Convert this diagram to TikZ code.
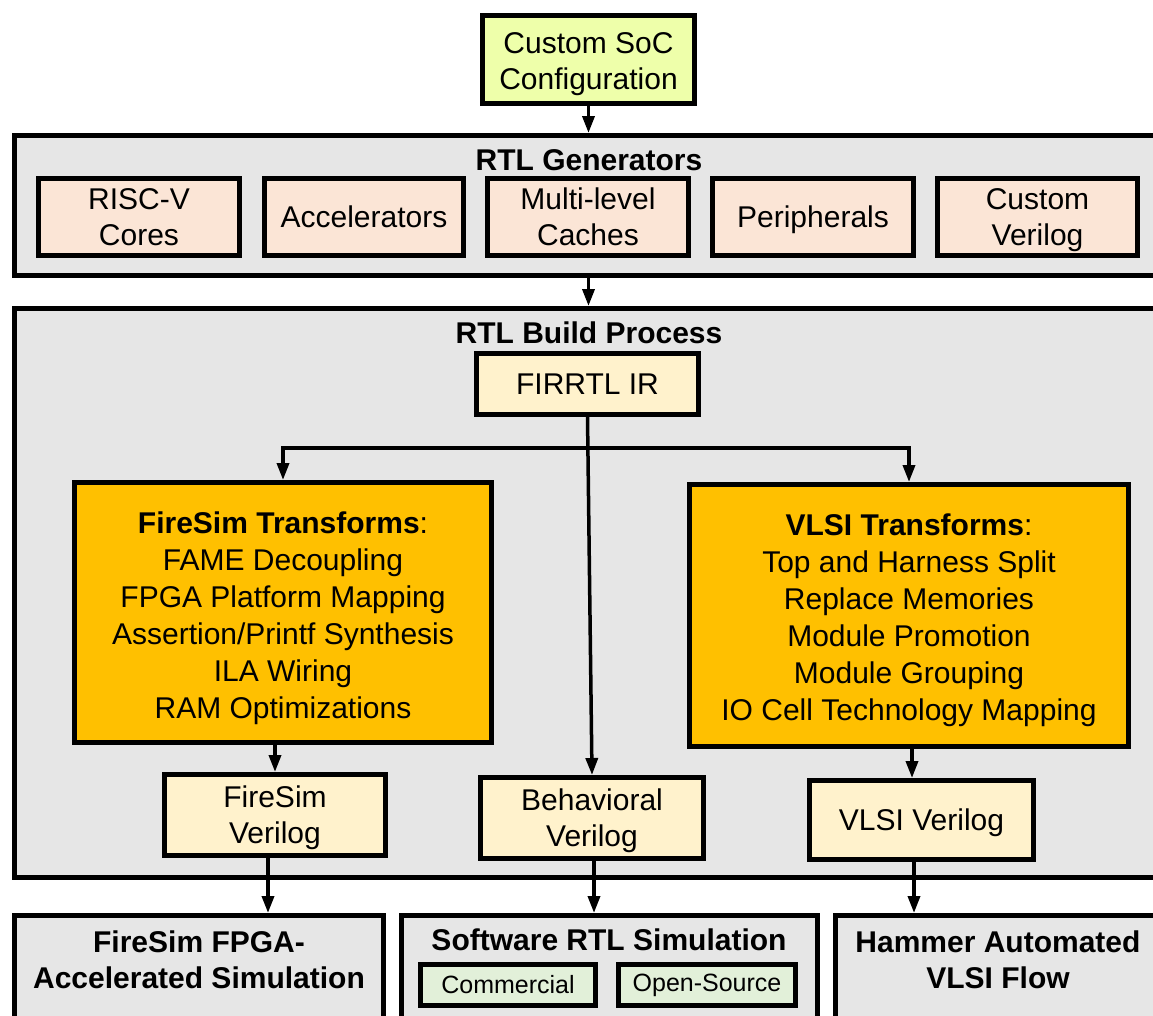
\documentclass[tikz,border=0pt]{standalone}
\usepackage{fontspec}
\setmainfont{Liberation Sans}
\usetikzlibrary{arrows.meta}
\definecolor{socfill}{HTML}{EEFFAA}
\definecolor{greyfill}{HTML}{E6E6E6}
\definecolor{peach}{HTML}{FBE5D6}
\definecolor{orange}{HTML}{FFC000}
\definecolor{lyellow}{HTML}{FFF2CC}
\definecolor{lgreen}{HTML}{E2F0D9}
\newcommand{\nodep}[1]{\raisebox{0pt}[\height][0pt]{#1}}
\tikzset{
  box/.style={draw=black, line width=5pt, inner sep=0pt, align=center,
    font=\fontsize{30}{36}\selectfont},
  smallbox/.style={draw=black, line width=4.5pt, inner sep=0pt, align=center,
    font=\fontsize{25}{30}\selectfont, fill=lgreen},
  title/.style={inner sep=0pt, align=center, font=\fontsize{30}{36}\selectfont\bfseries},
  arr/.style={line width=3.5pt, -{Triangle[width=12pt,length=17pt]}},
  ln/.style={line width=3.5pt}
}
\begin{document}
\begin{tikzpicture}[x=1pt,y=-1pt]
\useasboundingbox (0,0) rectangle (1153,1015);
\clip (0,0) rectangle (1153,1015);
\fill[white] (0,0) rectangle (1153,1015);
% top
\node[box, fill=socfill, minimum width=212pt, minimum height=88pt] (soc) at (588.5,59.5) {\rule{0pt}{24pt}Custom SoC\\\nodep{Configuration}};
% RTL generators
\node[box, fill=greyfill, minimum width=1153pt, minimum height=140pt] (gen) at (591,205.5) {};
\node[title] (gent) at (589,160) {RTL Generators};
\node[box, fill=peach, minimum width=201pt, minimum height=77pt] (g1) at (139,217) {RISC-V\\Cores};
\node[box, fill=peach, minimum width=199pt, minimum height=77pt] (g2) at (364,217) {Accelerators};
\node[box, fill=peach, minimum width=201pt, minimum height=77pt] (g3) at (588,217) {Multi-level\\Caches};
\node[box, fill=peach, minimum width=201pt, minimum height=77pt] (g4) at (813,217) {\nodep{Peripherals}};
\node[box, fill=peach, minimum width=200pt, minimum height=77pt] (g5) at (1037.5,217) {Custom\\\nodep{Verilog}};
% RTL build process
\node[box, fill=greyfill, minimum width=1153pt, minimum height=569pt] (build) at (591,593) {};
\node[title] (buildt) at (589,333) {RTL Build Process};
\node[box, fill=lyellow, minimum width=222pt, minimum height=61pt] (fir) at (587.5,384) {FIRRTL IR};
\node[box, fill=orange, minimum width=417pt, minimum height=260pt, font=\fontsize{30}{37}\selectfont] (fire) at (283,612.5)
  {\rule{0pt}{26pt}\textbf{FireSim Transforms}:\\FAME Decoupling\\FPGA Platform Mapping\\Assertion/Printf Synthesis\\ILA Wiring\\\nodep{RAM Optimizations}};
\node[box, fill=orange, minimum width=439pt, minimum height=262pt, font=\fontsize{30}{37}\selectfont] (vlsi) at (909,615.5)
  {\rule{0pt}{24pt}\textbf{VLSI Transforms}:\\Top and Harness Split\\Replace Memories\\Module Promotion\\Module Grouping\\\nodep{IO Cell Technology Mapping}};
\node[box, fill=lyellow, minimum width=221pt, minimum height=81pt] (fsv) at (275,815) {FireSim\\\nodep{Verilog}};
\node[box, fill=lyellow, minimum width=223pt, minimum height=81pt] (bhv) at (592,818) {Behavioral\\\nodep{Verilog}};
\node[box, fill=lyellow, minimum width=224pt, minimum height=79pt] (vlv) at (921.5,820) {\nodep{VLSI Verilog}};
% bottom
\node[box, fill=greyfill, minimum width=369pt, minimum height=112pt] (fpga) at (199,971.5) {};
\node[box, fill=greyfill, minimum width=416pt, minimum height=112pt] (sw) at (609.5,971.5) {};
\node[box, fill=greyfill, minimum width=332pt, minimum height=112pt] (ham) at (1001.5,971.5) {};
\node[title] (fpgat) at (199,960) {FireSim FPGA-\\Accelerated Simulation};
\node[title] (swt) at (609,940) {Software RTL Simulation};
\node[title] (hamt) at (998,960) {Hammer Automated\\VLSI Flow};
\node[smallbox, minimum width=175pt, minimum height=41pt] (com) at (508,985) {Commercial};
\node[smallbox, minimum width=177pt, minimum height=41pt] (opn) at (707,985) {Open-Source};
% connectors
\draw[arr] (soc.south) -- (soc.south |- gen.north);
\draw[arr] (soc.south |- gen.south) -- (soc.south |- build.north);
\coordinate (split) at (fir.south |- 0,448);
\draw[ln] (fir.south) -- (split);
\draw[arr] (split) -| (fire.north);
\draw[arr] (split) -| (vlsi.north);
\draw[arr] (fir.south) -- (bhv.north);
\draw[arr] (fsv.north |- fire.south) -- (fsv.north);
\draw[arr] (vlsi.south -| 912,0) -- (vlv.north -| 912,0);
\draw[arr] (fsv.south -| 268,0) -- (fpga.north -| 268,0);
\draw[arr] (bhv.south -| 594,0) -- (sw.north -| 594,0);
\draw[arr] (vlv.south -| 914,0) -- (ham.north -| 914,0);
\end{tikzpicture}
\end{document}
